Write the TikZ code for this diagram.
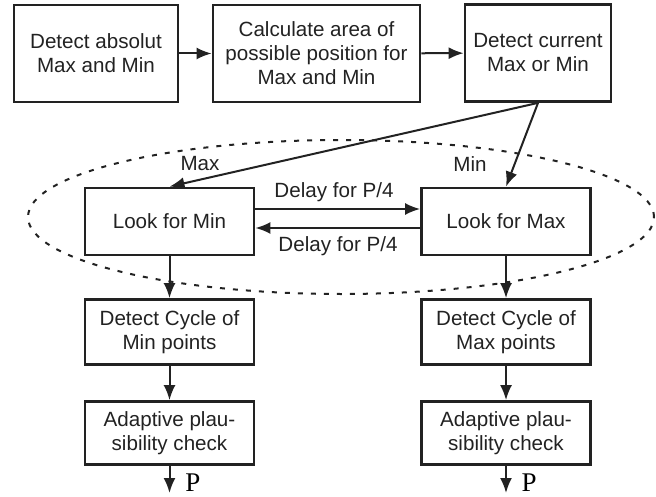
\documentclass[tikz,border=0pt]{standalone}
\usepackage{fontspec}
\setmainfont{Liberation Sans}
\newfontfamily\serifP{Liberation Serif}
\usepackage{tikz}
\usetikzlibrary{arrows.meta,shapes.geometric}
\definecolor{DarkGrey}{HTML}{222222}
\newcommand\TopH{48.5pt}
\newcommand\LowW{84.5pt}
\newcommand\ColL{169.5}
\newcommand\ColR{506}
\tikzstyle{block}=[rectangle,draw=DarkGrey,line width=1.4pt,align=center,inner sep=0pt,
                     text=DarkGrey,font=\fontsize{10.3}{12}\selectfont]
\tikzstyle{top}=[block,minimum height=\TopH]
\tikzstyle{low}=[block,minimum width=\LowW]
\tikzstyle{flow}=[-{Latex[length=7.5pt,width=6pt]},line width=1pt,draw=DarkGrey]
\tikzstyle{tag}=[inner sep=0pt,text=DarkGrey,font=\fontsize{10.3}{12}\selectfont]
\tikzstyle{zone}=[ellipse,draw=DarkGrey,line width=1pt,dash pattern=on 2.5pt off 4pt,
                     minimum width=313pt,minimum height=77pt,inner sep=0pt]

\begin{document}
\begin{tikzpicture}[x=0.5pt,y=-0.5pt]
      \useasboundingbox (0,0) rectangle (656,496);
      \node[zone] (zone) at (341,217) {};
      % top row
      \node[top,minimum width=82pt] (absolut) at (96,53.5) {Detect absolut\\Max and Min};
      \node[top,minimum width=103.5pt] (area) at (316.5,53.5) {Calculate area of\\possible position for\\Max and Min};
      \node[top,minimum width=73pt] (current) at (538,53) {Detect current\\Max or Min};
      % search loop
      \node[low,minimum height=33.5pt] (lookmin) at (\ColL,221.5) {Look for Min};
      \node[low,minimum height=33.5pt] (lookmax) at (\ColR,221.5) {Look for Max};
      % cycle and check
      \node[low,minimum height=32.5pt] (cyclemin) at (\ColL,332) {Detect Cycle of\\Min points};
      \node[low,minimum height=32.5pt] (cyclemax) at (\ColR,332) {Detect Cycle of\\Max points};
      \node[low,minimum height=31.5pt] (checkmin) at (\ColL,433) {Adaptive plau-\\sibility check};
      \node[low,minimum height=31.5pt] (checkmax) at (\ColR,433) {Adaptive plau-\\sibility check};
      \coordinate (outmin) at (\ColL,493);
      \coordinate (outmax) at (\ColR,493);
      \node[inner sep=0pt,font=\serifP\fontsize{13.5}{14}\selectfont] (pmin) at (193,483) {P};
      \node[inner sep=0pt,font=\serifP\fontsize{13.5}{14}\selectfont] (pmax) at (529,483) {P};
      % labels
      \node[tag] (maxlbl) at (200,164) {Max};
      \node[tag] (minlbl) at (470,164) {Min};
      \node[tag] (delayup) at (334,192) {Delay for P/4};
      \node[tag] (delaydown) at (338,246) {Delay for P/4};
      % arrows
      \draw[flow] (absolut) -- (area);
      \draw[flow] (area) -- (current);
      \draw[flow] (current.south) -- (lookmin.north);
      \draw[flow] (current.south) -- (lookmax.north);
      \draw[flow] ([yshift=6.25pt]lookmin.east) -- ([yshift=6.25pt]lookmax.west);
      \draw[flow] ([yshift=-3.25pt]lookmax.west) -- ([yshift=-3.25pt]lookmin.east);
      \draw[flow] (lookmin) -- (cyclemin);
      \draw[flow] (lookmax) -- (cyclemax);
      \draw[flow] (cyclemin) -- (checkmin);
      \draw[flow] (cyclemax) -- (checkmax);
      \draw[flow] (checkmin) -- (outmin);
      \draw[flow] (checkmax) -- (outmax);
   \end{tikzpicture}
\end{document}
